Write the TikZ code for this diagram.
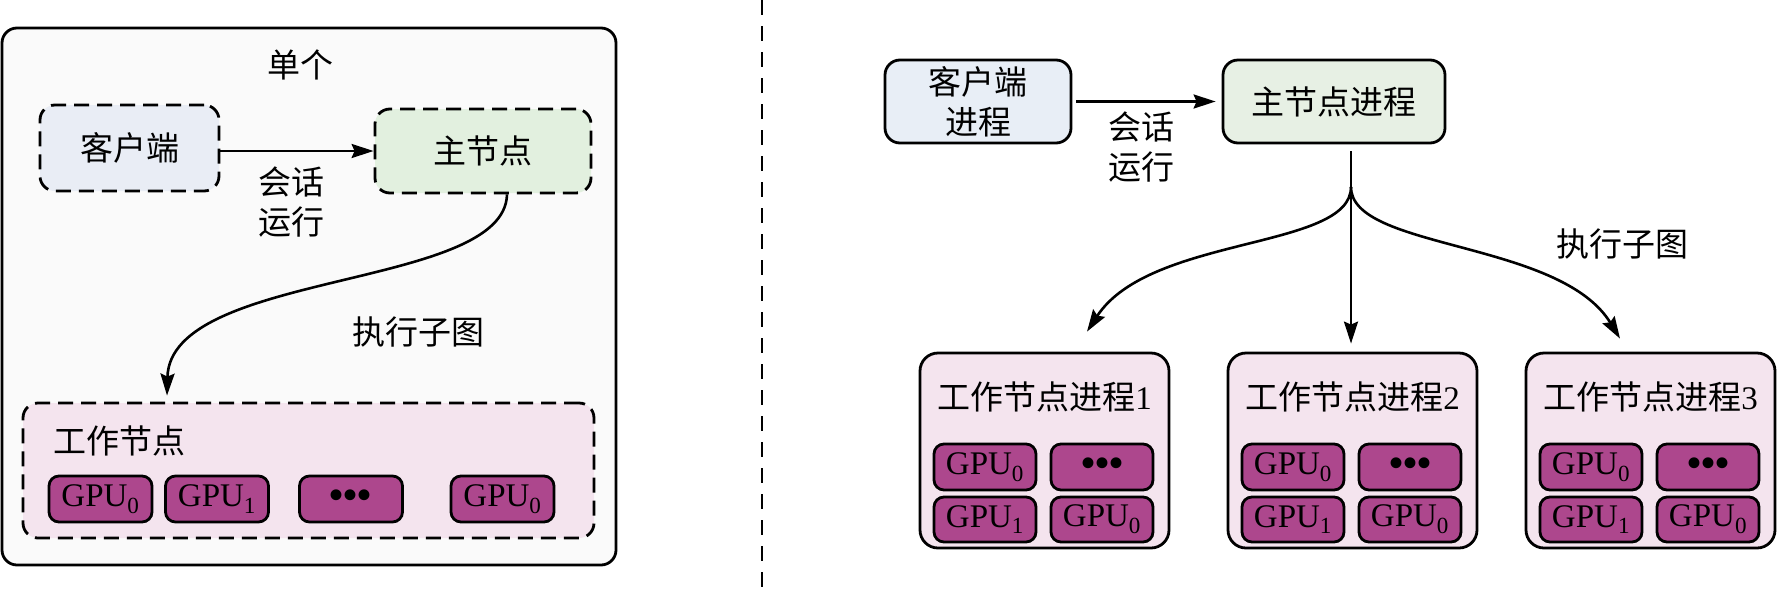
\documentclass[tikz,border=0pt]{standalone}
\usepackage{fontspec}
\setmainfont{Liberation Serif}
\newfontfamily\cjk{Noto Sans CJK SC}
\usetikzlibrary{arrows.meta}
\definecolor{outerfill}{HTML}{FAFAFA}
\definecolor{clientfill}{HTML}{E9EDF5}
\definecolor{masterfill}{HTML}{E2F0DF}
\definecolor{clientfillR}{HTML}{E8EEF6}
\definecolor{masterfillR}{HTML}{E7F0E4}
\definecolor{workerfill}{HTML}{F4E4EE}
\definecolor{gpufill}{HTML}{AD478D}
\begin{document}
\begin{tikzpicture}[x=1pt,y=-1pt,
  txt/.style={font=\fontsize{33}{40}\selectfont\cjk, inner sep=0pt, align=center},
  gputxt/.style={font=\fontsize{33}{34}\selectfont},
  box/.style={draw=black, line width=2.8pt, rounded corners=15pt, inner sep=0pt},
  dashbox/.style={box, dash pattern=on 15pt off 8pt},
  gpubox/.style={draw=black, line width=2.8pt, rounded corners=10pt, fill=gpufill, inner sep=0pt, gputxt},
  dots/.style={font=\fontsize{40}{40}\selectfont\bfseries},
  arr/.style={line width=2.6pt, -{Stealth[length=22pt,width=14pt,inset=3pt]}},
  conn/.style={line width=2.6pt}
]
\useasboundingbox (0,0) rectangle (1778,598);
\fill[white] (0,0) rectangle (1778,598);

% ---------- left part ----------
\node[box, fill=outerfill, minimum width=614pt, minimum height=537pt] (outer) at (309,296.5) {};
\node[txt] (single) at (300,65) {单个};
\node[dashbox, fill=clientfill, minimum width=179pt, minimum height=86pt, txt] (cL) at (129.5,148) {客户端};
\node[dashbox, fill=masterfill, minimum width=216pt, minimum height=84pt, txt] (mL) at (483,151) {主节点};
\draw[arr] (cL.east |- mL.west) -- (mL.west);
\node[txt] (lblL) at (291,202) {会话\\运行};
\node[dashbox, fill=workerfill, minimum width=571pt, minimum height=135pt] (wL) at (308.5,470.5) {};
\node[txt, anchor=west] (wLt) at (53,441) {工作节点};
\draw[arr] ([xshift=24pt]mL.south) .. controls (505,290) and (170,270) .. ([xshift=-141.5pt,yshift=6pt]wL.north);
\node[txt] (execL) at (418,332) {执行子图};
\node[gpubox, minimum width=103pt, minimum height=46pt] (gL1) at (100.5,499) {GPU\textsubscript{0}};
\node[gpubox, minimum width=103pt, minimum height=46pt] (gL2) at (217,499) {GPU\textsubscript{1}};
\node[gpubox, minimum width=103pt, minimum height=46pt, dots] (gL3) at (351,499) {•••};
\node[gpubox, minimum width=103pt, minimum height=46pt] (gL4) at (502.5,499) {GPU\textsubscript{0}};

% ---------- separator ----------
\coordinate (sepT) at (762,0);
\coordinate (sepB) at (762,598);
\draw[line width=2pt, dash pattern=on 15pt off 11pt] (sepT) -- (sepB);

% ---------- right part ----------
\node[box, fill=clientfillR, minimum width=186pt, minimum height=83pt, txt] (cR) at (978,101.5) {客户端\\进程};
\node[box, fill=masterfillR, minimum width=222pt, minimum height=83pt, txt] (mR) at (1334,101.5) {主节点进程};
\draw[arr, shorten <=4pt, shorten >=6pt] (cR.east) -- (mR.west);
\node[txt] (lblR) at (1141,147) {会话\\运行};

\foreach \i/\cx in {1/1044.5, 2/1352.5, 3/1650.5}{
  \node[box, fill=workerfill, rounded corners=18pt, minimum width=249pt, minimum height=195pt] (w\i) at (\cx,450.5) {};
  \node[txt, font=\fontsize{33}{40}\selectfont] (wt\i) at (\cx,397) {{\cjk 工作节点进程}\i};
  \node[gpubox, minimum width=102pt, minimum height=46pt] (g\i a) at (\cx-59.5,467) {GPU\textsubscript{0}};
  \node[gpubox, minimum width=102pt, minimum height=46pt, dots] (g\i b) at (\cx+57.5,467) {•••};
  \node[gpubox, minimum width=102pt, minimum height=45pt] (g\i c) at (\cx-59.5,519.5) {GPU\textsubscript{1}};
  \node[gpubox, minimum width=102pt, minimum height=45pt] (g\i d) at (\cx+57.5,519.5) {GPU\textsubscript{0}};
}

\coordinate (br) at (1351,187);
\draw[conn, shorten <=7pt] (mR.south -| br) -- (br);
\draw[arr, shorten >=8pt] (br) -- (br |- w2.north);
\draw[arr] (br) .. controls (1351,250) and (1150,235) .. ([xshift=42.5pt,yshift=20pt]w1.north);
\draw[arr] (br) .. controls (1351,250) and (1560,240) .. ([xshift=-30.5pt,yshift=13pt]w3.north);
\node[txt] (execR) at (1622,244) {执行子图};
\end{tikzpicture}
\end{document}
